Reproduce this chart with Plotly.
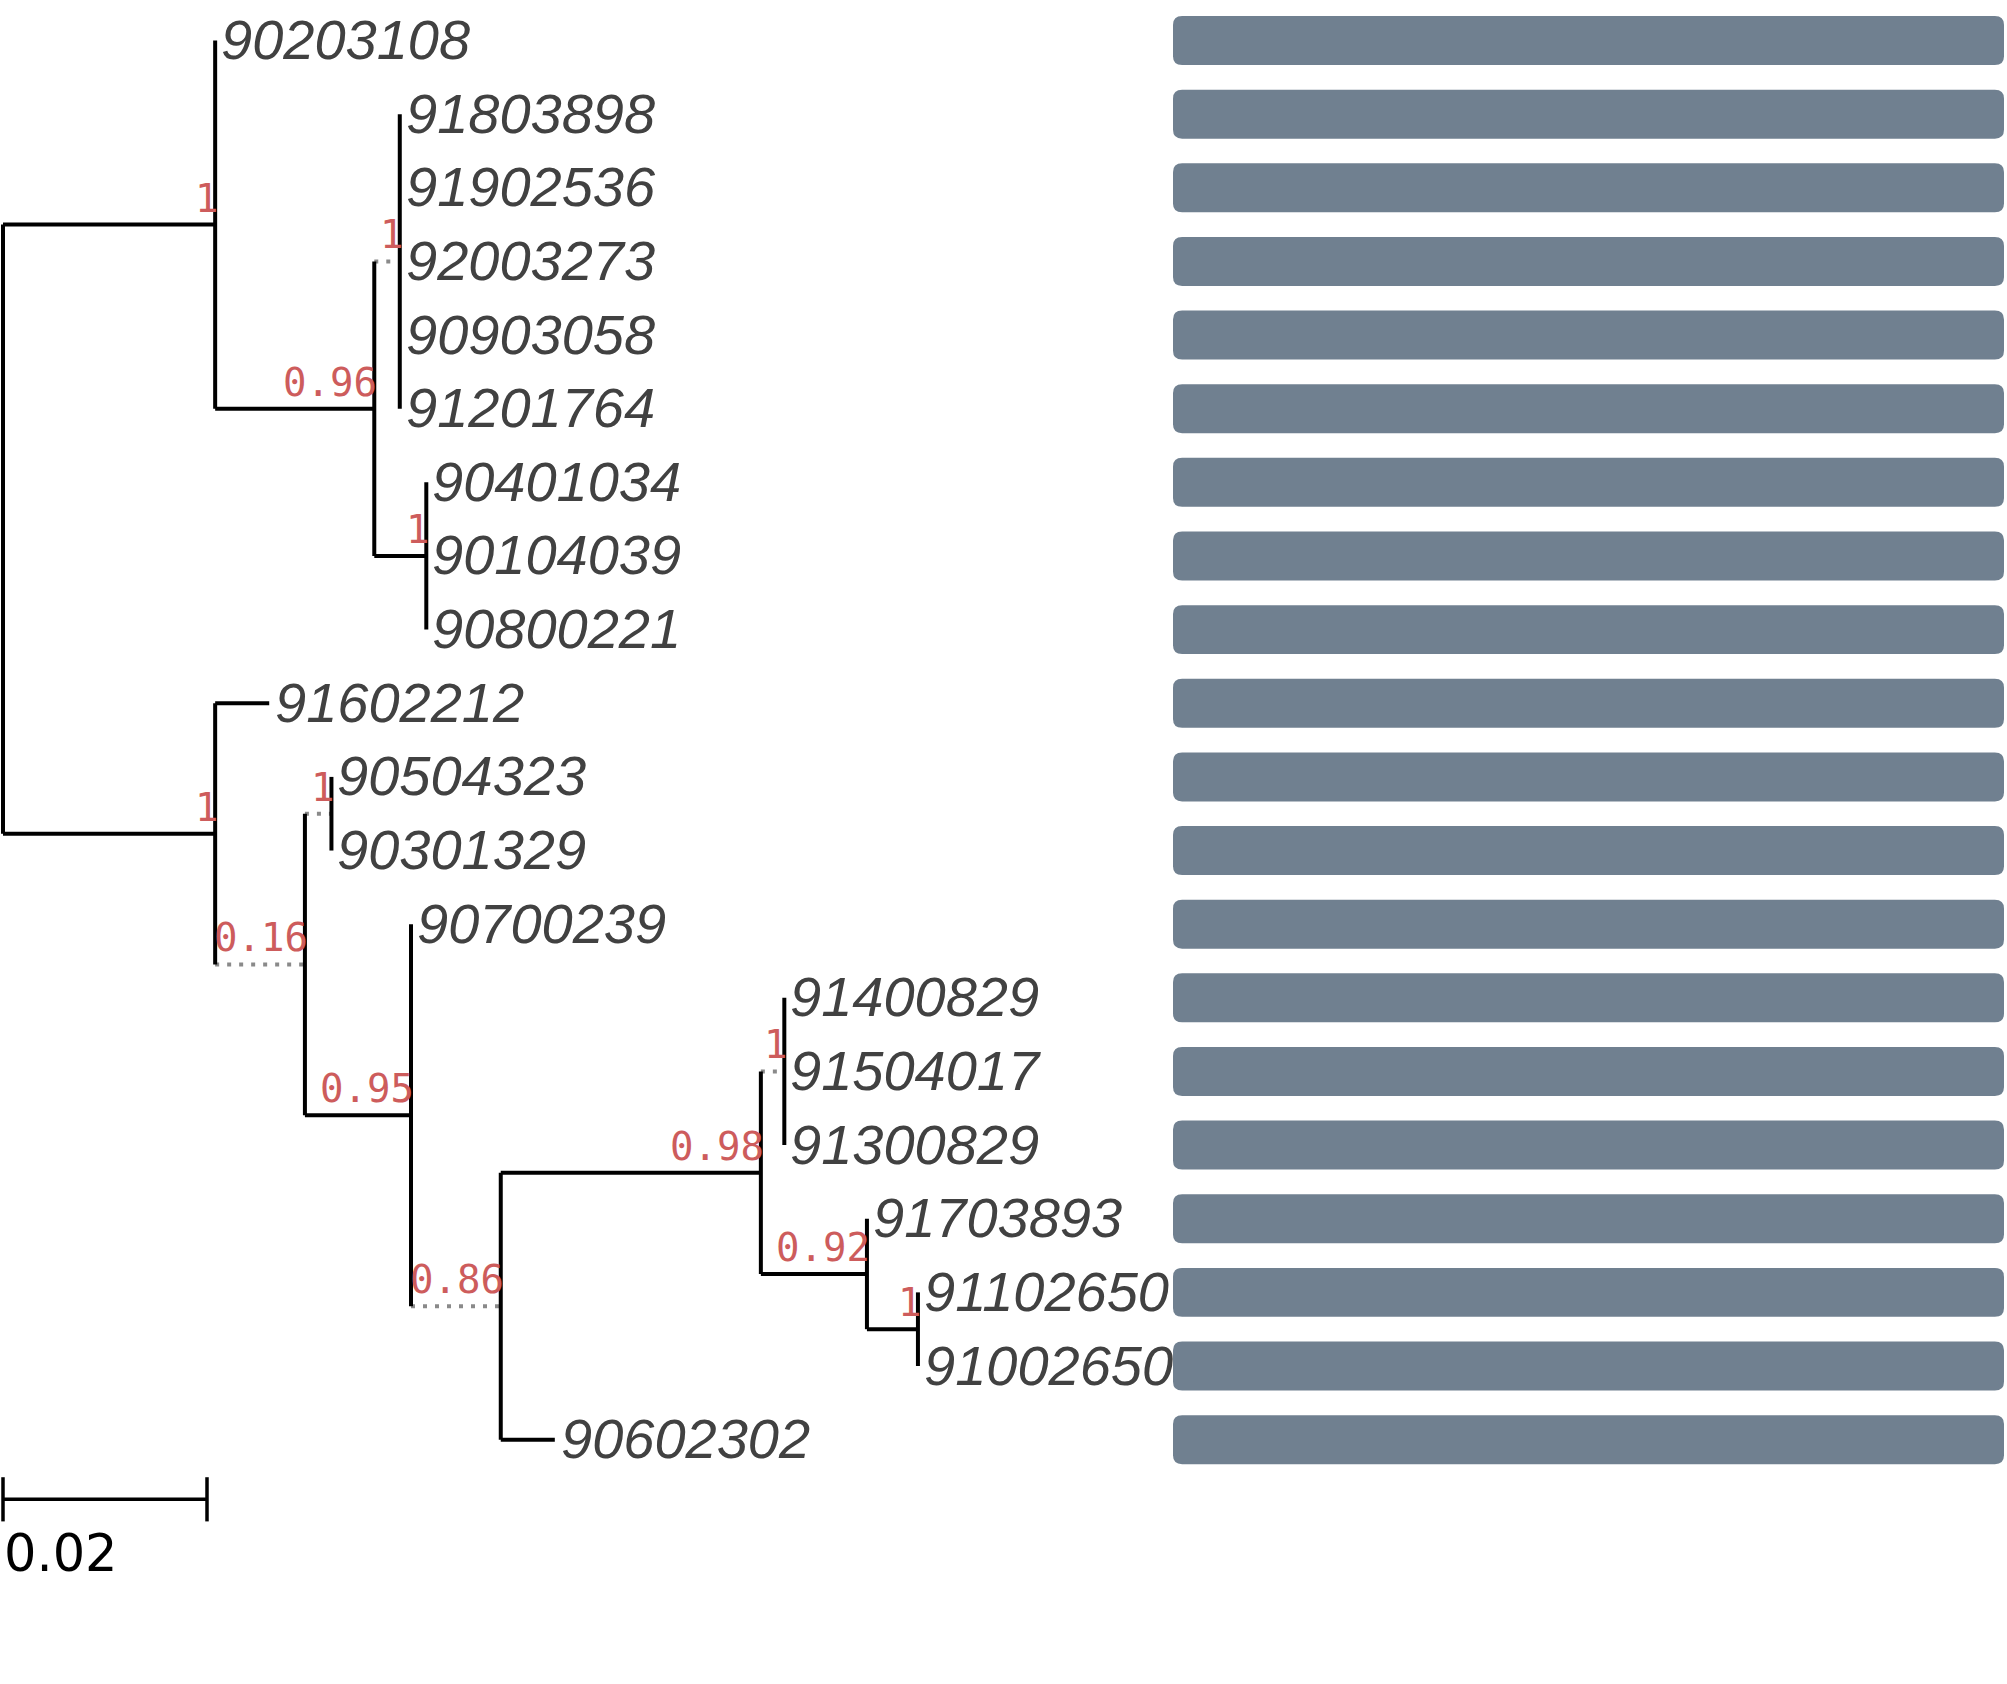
import plotly.graph_objects as go

# tip labels, top to bottom
TIP_LABELS = [
    "90203108", "91803898", "91902536", "92003273", "90903058", "91201764",
    "90401034", "90104039", "90800221", "91602212", "90504323", "90301329",
    "90700239", "91400829", "91504017", "91300829", "91703893", "91102650",
    "91002650", "90602302",
]

# tree edges (parent -> child), branch lengths in substitutions/site
EDGE_PARENT = [
    "root", "n_a", "n_a", "n_b", "n_b", "n_c", "n_c", "n_c", "n_c", "n_c",
    "n_d", "n_d", "n_d",
    "root", "n_e", "n_e", "n_f", "n_f", "n_g", "n_g", "n_h", "n_h",
    "n_i", "n_i", "n_j", "n_j", "n_k", "n_k", "n_k", "n_l", "n_l", "n_m", "n_m",
]
EDGE_CHILD = [
    "n_a", "90203108", "n_b", "n_c", "n_d", "91803898", "91902536", "92003273", "90903058", "91201764",
    "90401034", "90104039", "90800221",
    "n_e", "91602212", "n_f", "n_g", "n_h", "90504323", "90301329", "90700239", "n_i",
    "n_j", "90602302", "n_k", "n_l", "91400829", "91504017", "91300829", "91703893", "n_m",
    "91102650", "91002650",
]
EDGE_LENGTH = [
    0.0208, 0.0, 0.0156, 0.0025, 0.0051, 0.0, 0.0, 0.0, 0.0, 0.0,
    0.0, 0.0, 0.0,
    0.0208, 0.0053, 0.0088, 0.0026, 0.0104, 0.0, 0.0, 0.0, 0.0088,
    0.0255, 0.0053, 0.0023, 0.0104, 0.0, 0.0, 0.0, 0.0, 0.0050,
    0.0, 0.0,
]
EDGE_DOTTED = [
    False, False, False, True, False, False, False, False, False, False,
    False, False, False,
    False, False, True, True, False, False, False, False, True,
    False, False, True, False, False, False, False, False, False,
    False, False,
]

# posterior support per internal node
SUPPORT_NODES = ["n_a", "n_b", "n_c", "n_d", "n_e", "n_f", "n_g", "n_h", "n_i", "n_j", "n_k", "n_l", "n_m"]
SUPPORT_TEXT = ["1", "0.96", "1", "1", "1", "0.16", "1", "0.95", "0.86", "0.98", "1", "0.92", "1"]

# values for the bar panel on the right
BAR_VALUES = [1, 1, 1, 1, 1, 1, 1, 1, 1, 1, 1, 1, 1, 1, 1, 1, 1, 1, 1, 1]

SCALE_LENGTH = 0.02
SCALE_TEXT = "0.02"

BAR_COLOR = "#708090"

# --- layout of the tree ---
children = {}
for p, c in zip(EDGE_PARENT, EDGE_CHILD):
    children.setdefault(p, []).append(c)

node_x = {"root": 0.0}
for p, c, bl in zip(EDGE_PARENT, EDGE_CHILD, EDGE_LENGTH):
    node_x[c] = node_x[p] + bl

node_y = {tip: i + 1 for i, tip in enumerate(TIP_LABELS)}


def get_y(node):
    if node not in node_y:
        ys = [get_y(c) for c in children[node]]
        node_y[node] = sum(ys) / len(ys)
    return node_y[node]


get_y("root")

solid_x, solid_y = [], []
dot_x, dot_y = [], []
for p, c, dotted in zip(EDGE_PARENT, EDGE_CHILD, EDGE_DOTTED):
    if node_x[c] == node_x[p]:
        continue
    xs, ys = (dot_x, dot_y) if dotted else (solid_x, solid_y)
    xs += [node_x[p], node_x[c], None]
    ys += [node_y[c], node_y[c], None]

for node, kids in children.items():
    ys = [node_y[k] for k in kids]
    solid_x += [node_x[node], node_x[node], None]
    solid_y += [min(ys), max(ys), None]

fig = go.Figure()

fig.add_trace(go.Scatter(
    x=dot_x, y=dot_y, mode="lines",
    line=dict(color="#8a8a8a", width=4, dash="4px,8px"),
    hoverinfo="skip", showlegend=False,
))
fig.add_trace(go.Scatter(
    x=solid_x, y=solid_y, mode="lines",
    line=dict(color="black", width=4),
    hoverinfo="skip", showlegend=False,
))

# tip labels
for tip in TIP_LABELS:
    fig.add_annotation(
        x=node_x[tip], y=node_y[tip], text=tip, showarrow=False,
        xanchor="left", yanchor="middle", xshift=4, yshift=1,
        font=dict(family="Liberation Sans", size=56, color="#414141", style="italic"),
    )

# support values
for node, txt in zip(SUPPORT_NODES, SUPPORT_TEXT):
    fig.add_annotation(
        x=node_x[node], y=node_y[node], text=txt, showarrow=False,
        xanchor="right", yanchor="bottom", xshift=5, yshift=2,
        font=dict(family="DejaVu Sans Mono", size=39, color="#cd5c5c"),
    )

# scale bar
scale_y = 20.81
tick = 0.3
fig.add_trace(go.Scatter(
    x=[0, SCALE_LENGTH, None, 0, 0, None, SCALE_LENGTH, SCALE_LENGTH],
    y=[scale_y, scale_y, None, scale_y - tick, scale_y + tick, None, scale_y - tick, scale_y + tick],
    mode="lines", line=dict(color="black", width=3.5),
    hoverinfo="skip", showlegend=False,
))
fig.add_annotation(
    x=0, y=scale_y + tick, text=SCALE_TEXT, showarrow=False,
    xanchor="left", yanchor="top", xshift=-1, yshift=-1,
    font=dict(family="DejaVu Sans", size=51, color="black"),
)

# bar panel: invisible bar trace holds the values, rounded shapes draw them
rows = list(range(1, len(TIP_LABELS) + 1))
bar_h = 0.665
fig.add_trace(go.Bar(
    y=rows, x=BAR_VALUES, orientation="h", width=bar_h, xaxis="x2", yaxis="y",
    marker=dict(color="rgba(0,0,0,0)", line=dict(width=0)),
    hovertemplate="%{x}<extra></extra>", showlegend=False,
))

rx, ry = 0.011, 0.12  # corner radius in axis units (~9px)
for r, v in zip(rows, BAR_VALUES):
    x0, x1 = 0, v
    y0, y1 = r - bar_h / 2, r + bar_h / 2
    path = (
        f"M {x0 + rx},{y0} L {x1 - rx},{y0} Q {x1},{y0} {x1},{y0 + ry} "
        f"L {x1},{y1 - ry} Q {x1},{y1} {x1 - rx},{y1} L {x0 + rx},{y1} "
        f"Q {x0},{y1} {x0},{y1 - ry} L {x0},{y0 + ry} Q {x0},{y0} {x0 + rx},{y0} Z"
    )
    fig.add_shape(type="path", path=path, xref="x2", yref="y",
                  fillcolor=BAR_COLOR, line=dict(width=0), layer="above")

fig.update_layout(
    width=2007, height=1684,
    margin=dict(l=0, r=0, t=0, b=0),
    plot_bgcolor="white", paper_bgcolor="white",
    xaxis=dict(range=[-0.000294, 0.196471], domain=[0, 1], visible=False, fixedrange=True),
    xaxis2=dict(range=[0, 1], domain=[1173 / 2007, 2004 / 2007], anchor="y", visible=False),
    yaxis=dict(range=[23.318, 0.45], visible=False),
)

# page body has an 8px default margin; drop it so the figure sits at the window corner
fig.write_html("out.html", config={"displayModeBar": False},
               post_script="document.body.style.margin='0px';")
